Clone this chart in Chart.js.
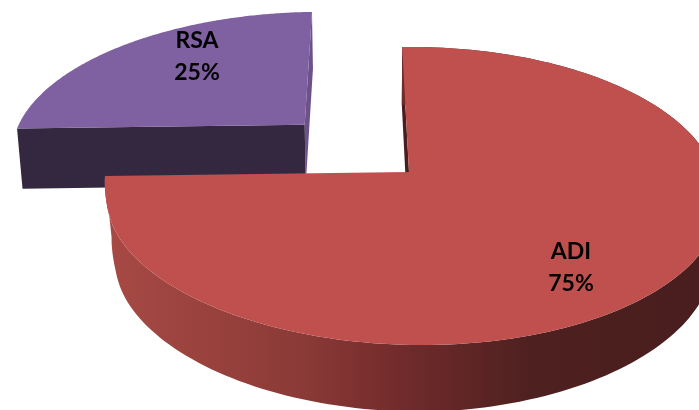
<!DOCTYPE html>
<html>
<head>
<meta charset="utf-8">
<style>
html, body { margin: 0; padding: 0; background: #fff; }
canvas { display: block; }
</style>
<script src="https://cdn.jsdelivr.net/npm/chart.js@4/dist/chart.umd.min.js"></script>
</head>
<body>
<canvas id="myChart" width="699" height="410"></canvas>
<script>
const categories = ["ADI", "RSA"];
const shares = [75, 25];
const topColors = ["#BF504D", "#7F60A0"];

// perspective of the pie plane, u/v are in units of the radius
function project(u, v) {
    const w = 1 - 0.161 * v;
    // near side leans right a little, more so at the left end of the rim
    const lean = Math.max(v, 0) * (10 + 20 * Math.pow(Math.max(-u, 0), 32));
    return {
        x: 360 + (49 + 304 * u + lean) / w,
        y: 172 + (145.1 * v - 4 * u) / w
    };
}

// same point on the underside of the pie
function lower(p) {
    const extra = 0.00019 * Math.min(Math.max(p.y - 127, 0), 80);
    const e = 0.015 + (p.x < 376 ? extra : extra * 0.4);
    return {
        x: p.x + (376 - p.x) * e,
        y: p.y + 60 + (p.y - 125) * 0.03 - Math.max(p.x - 450, 0) * 0.02
    };
}

function rimPoints(arc, ou, ov) {
    const pts = [];
    const steps = 180;
    for (let i = 0; i <= steps; i++) {
        const a = arc.startAngle + (arc.endAngle - arc.startAngle) * i / steps;
        pts.push(project(ou + Math.cos(a), ov + Math.sin(a)));
    }
    return pts;
}

function fillPoly(ctx, pts, fill) {
    ctx.beginPath();
    pts.forEach((p, i) => {
        if (i === 0) ctx.moveTo(p.x, p.y);
        else ctx.lineTo(p.x, p.y);
    });
    ctx.closePath();
    ctx.fillStyle = fill;
    ctx.fill();
}

const pie3d = {
    id: "pie3d",
    beforeDatasetsDraw(chart, args, opts) {
        const ctx = chart.ctx;
        const meta = chart.getDatasetMeta(0);
        // far slice first, the big one overlaps it
        [1, 0].forEach((i) => {
            const arc = meta.data[i];
            const mid = (arc.startAngle + arc.endAngle) / 2;
            const off = (arc.options.offset || 0) / arc.outerRadius;
            const ou = Math.cos(mid) * off;
            const ov = Math.sin(mid) * off;
            const apex = project(ou, ov);
            const rim = rimPoints(arc, ou, ov);
            const first = rim[0];
            const last = rim[rim.length - 1];

            if (i === 1) {
                // straight cut facing the viewer and the short side wall
                fillPoly(ctx, [last, apex, lower(apex), lower(last)], "#6C5289");
                fillPoly(ctx, [first, apex, lower(apex), lower(first)], "#33283F");
            } else {
                fillPoly(ctx, [first, apex, lower(apex), lower(first)], "#4A1E1E");
                const grad = ctx.createLinearGradient(105, 0, 699, 0);
                grad.addColorStop(0, "#A84A45");
                grad.addColorStop(0.33, "#8B3A37");
                grad.addColorStop(0.5, "#712B2B");
                grad.addColorStop(0.72, "#4E2020");
                grad.addColorStop(1, "#4A1E1E");
                fillPoly(ctx, rim.concat(rim.map(lower).reverse()), grad);
            }
            fillPoly(ctx, [apex].concat(rim), arc.options.backgroundColor);
        });

        const total = shares.reduce((a, b) => a + b, 0);
        ctx.fillStyle = "#000";
        ctx.font = "bold 23px Lato";
        ctx.textAlign = "center";
        ctx.textBaseline = "middle";
        categories.forEach((name, i) => {
            const at = opts.labelAt[i];
            ctx.fillText(name, at[0], at[1]);
            ctx.fillText(Math.round(shares[i] / total * 100) + "%", at[0], at[1] + 32);
        });
        return false;
    }
};

new Chart(document.getElementById("myChart"), {
    type: "pie",
    data: {
        labels: categories,
        datasets: [{
            data: shares,
            backgroundColor: topColors,
            borderWidth: 0,
            offset: [0, 82]
        }]
    },
    options: {
        responsive: false,
        animation: false,
        layout: { padding: 0 },
        plugins: {
            legend: { display: false },
            tooltip: { enabled: false },
            pie3d: { labelAt: [[571, 252], [197, 41]] }
        }
    },
    plugins: [pie3d]
});
</script>
</body>
</html>
